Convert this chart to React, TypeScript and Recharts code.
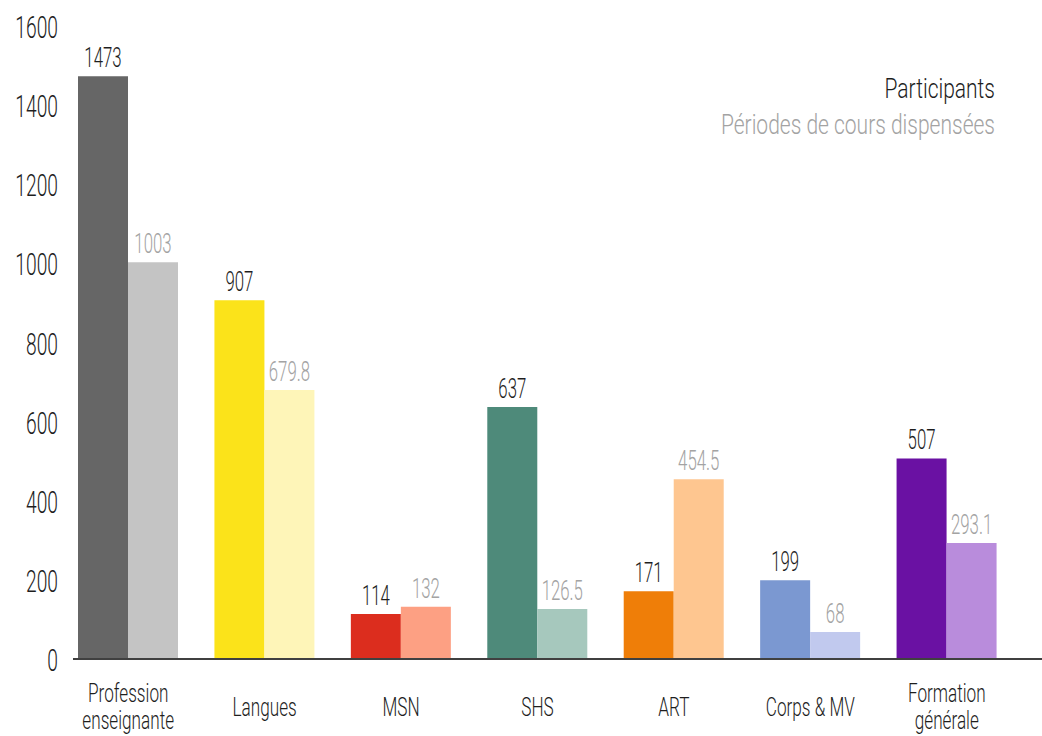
import React from 'react';
import {
    BarChart,
    Bar,
    XAxis,
    YAxis,
    Cell,
    LabelList,
} from 'recharts';

const categories = [
    'Profession\nenseignante',
    'Langues',
    'MSN',
    'SHS',
    'ART',
    'Corps & MV',
    'Formation\ngénérale',
];
const participants = [1473, 907, 114, 637, 171, 199, 507];
const periodes = [1003, 679.8, 132, 126.5, 454.5, 68, 293.1];
const yTicks = [0, 200, 400, 600, 800, 1000, 1200, 1400, 1600];
const legendLabels = ['Participants', 'Périodes de cours dispensées'];

const darkColors = ['#666666', '#fbe31a', '#dc2d1e', '#4e8a7a', '#ef7e08', '#7b98d1', '#6a11a3'];
const lightColors = ['#c4c4c4', '#fef5b8', '#fda083', '#a6c8bd', '#fec690', '#c1c9ee', '#b98cdc'];

const data = categories.map((name, i) => ({
    name,
    participants: participants[i],
    periodes: periodes[i],
}));

const FONT = 'Roboto, "DejaVu Sans Condensed", sans-serif';
const DARK = '#1e1e1e';
const GREY = '#a3a3a3';

// condensed looking text: the original face is a narrow DIN, so squeeze Roboto
const CondText = ({ x, y, anchor, size, sx, fill, weight, children }: any) => (
    <text
        transform={`translate(${x},${y}) scale(${sx},1)`}
        textAnchor={anchor}
        fontSize={size}
        fontFamily={FONT}
        fontWeight={weight || 300}
        fill={fill}
    >
        {children}
    </text>
);

const YTick = (props: any) => {
    const { x, y, payload } = props;
    return (
        <CondText x={x} y={y + 12} anchor="end" size={31} sx={0.62} fill={DARK}>
            {payload.value}
        </CondText>
    );
};

const CategoryTick = (props: any) => {
    const { x, y, payload } = props;
    const lines: string[] = String(payload.value).split('\n');
    const base = lines.length > 1 ? 43 : 57;
    return (
        <g>
            {lines.map((l, i) => (
                <CondText key={i} x={x} y={y + base + i * 27} anchor="middle" size={26} sx={0.66} fill={DARK}>
                    {l}
                </CondText>
            ))}
        </g>
    );
};

const makeValueLabel = (fill: string) => (props: any) => {
    const { x, y, width, value } = props;
    return (
        <CondText x={x + width / 2} y={y - 9} anchor="middle" size={28} sx={0.6} fill={fill}>
            {value}
        </CondText>
    );
};

const App: React.FC = () => {
    return (
        <div style={{ position: 'absolute', left: 0, top: 0, width: 1042, height: 736, fontFamily: FONT, background: '#fff' }}>
            <BarChart
                width={1042}
                height={736}
                data={data}
                margin={{ top: 26, right: 0, bottom: 0, left: 0 }}
                barCategoryGap={18}
                barGap={0}
            >
                <YAxis
                    domain={[0, 1600]}
                    ticks={yTicks}
                    width={73}
                    axisLine={false}
                    tickLine={false}
                    tickSize={0}
                    tickMargin={15}
                    tick={<YTick />}
                    interval={0}
                />
                <XAxis
                    dataKey="name"
                    height={77}
                    padding={{ left: -13, right: 27 }}
                    axisLine={{ stroke: '#404040', strokeWidth: 2 }}
                    tickLine={false}
                    tickSize={0}
                    tickMargin={0}
                    interval={0}
                    tick={<CategoryTick />}
                />
                <Bar dataKey="participants" isAnimationActive={false}>
                    {data.map((_, i) => (
                        <Cell key={i} fill={darkColors[i]} />
                    ))}
                    <LabelList dataKey="participants" content={makeValueLabel(DARK)} />
                </Bar>
                <Bar dataKey="periodes" isAnimationActive={false}>
                    {data.map((_, i) => (
                        <Cell key={i} fill={lightColors[i]} />
                    ))}
                    <LabelList dataKey="periodes" content={makeValueLabel(GREY)} />
                </Bar>
            </BarChart>
            <svg width={1042} height={160} style={{ position: 'absolute', left: 0, top: 0, pointerEvents: 'none' }}>
                <CondText x={995} y={98} anchor="end" size={28} sx={0.75} fill={DARK}>
                    {legendLabels[0]}
                </CondText>
                <CondText x={995} y={134} anchor="end" size={28} sx={0.75} fill={GREY}>
                    {legendLabels[1]}
                </CondText>
            </svg>
        </div>
    );
};

export default App;
